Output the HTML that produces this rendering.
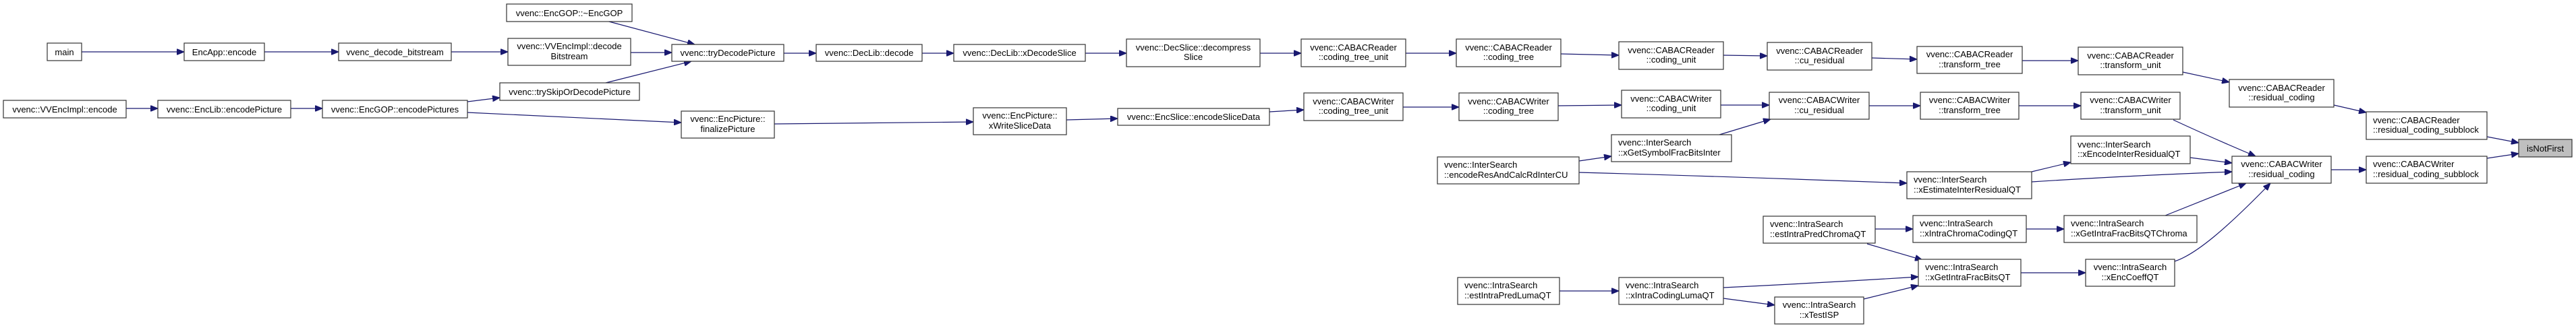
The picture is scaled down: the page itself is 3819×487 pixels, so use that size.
<!DOCTYPE html>
<html><head><meta charset="utf-8"><style>
html,body{margin:0;padding:0;background:#fff;}
svg{display:block;}
text{font-family:"Liberation Sans",Arial,sans-serif;font-size:13px;fill:#000;}
rect{fill:#fff;stroke:#333;stroke-width:1.2;}
path.e{fill:none;stroke:#191970;stroke-width:1.2;}
</style></head><body>
<svg width="3819" height="487" viewBox="0 0 3819 487" xmlns="http://www.w3.org/2000/svg">
<defs><marker id="a" markerUnits="userSpaceOnUse" markerWidth="12" markerHeight="9" refX="11" refY="4.5" orient="auto"><path d="M0,0 L11,4.5 L0,9 z" fill="#191970" stroke="#191970"/></marker></defs>
<g>
<path class="e" marker-end="url(#a)" d="M121,77 L273,77"/>
<path class="e" marker-end="url(#a)" d="M392,77 L502,77"/>
<path class="e" marker-end="url(#a)" d="M669,77 L753,77"/>
<path class="e" marker-end="url(#a)" d="M187,161 L234,161"/>
<path class="e" marker-end="url(#a)" d="M431,161 L478,161"/>
<path class="e" marker-end="url(#a)" d="M693,151 L741,145"/>
<path class="e" marker-end="url(#a)" d="M693,167 L1010,182"/>
<path class="e" marker-end="url(#a)" d="M899,31 L1030,66"/>
<path class="e" marker-end="url(#a)" d="M935,78 L996,78"/>
<path class="e" marker-end="url(#a)" d="M898,123 L1025,91"/>
<path class="e" marker-end="url(#a)" d="M1162,79 L1210,79"/>
<path class="e" marker-end="url(#a)" d="M1367,79 L1414,79"/>
<path class="e" marker-end="url(#a)" d="M1609,79 L1670,79"/>
<path class="e" marker-end="url(#a)" d="M1868,79 L1929,79"/>
<path class="e" marker-end="url(#a)" d="M1148,184 L1443,181"/>
<path class="e" marker-end="url(#a)" d="M1581,178 L1657,176"/>
<path class="e" marker-end="url(#a)" d="M1882,166 L1933,163"/>
<path class="e" marker-end="url(#a)" d="M2084,79 L2159,79"/>
<path class="e" marker-end="url(#a)" d="M2314,80 L2400,82"/>
<path class="e" marker-end="url(#a)" d="M2555,82 L2620,83"/>
<path class="e" marker-end="url(#a)" d="M2775,86 L2842,88"/>
<path class="e" marker-end="url(#a)" d="M2998,90 L3081,90"/>
<path class="e" marker-end="url(#a)" d="M3236,107 L3305,122"/>
<path class="e" marker-end="url(#a)" d="M3460,156 L3508,167"/>
<path class="e" marker-end="url(#a)" d="M3687,203 L3734,212"/>
<path class="e" marker-end="url(#a)" d="M3687,235 L3734,228"/>
<path class="e" marker-end="url(#a)" d="M3456,252 L3508,252"/>
<path class="e" marker-end="url(#a)" d="M2080,159 L2163,159"/>
<path class="e" marker-end="url(#a)" d="M2310,157 L2404,156"/>
<path class="e" marker-end="url(#a)" d="M2551,156 L2623,156"/>
<path class="e" marker-end="url(#a)" d="M2549,200 L2625,177"/>
<path class="e" marker-end="url(#a)" d="M2341,239 L2389,232"/>
<path class="e" marker-end="url(#a)" d="M2341,256 Q2560,262 2827,272"/>
<path class="e" marker-end="url(#a)" d="M2771,157 L2847,157"/>
<path class="e" marker-end="url(#a)" d="M2993,157 L3085,157"/>
<path class="e" marker-end="url(#a)" d="M3222,178 Q3280,205 3344,232"/>
<path class="e" marker-end="url(#a)" d="M3012,255 L3070,241"/>
<path class="e" marker-end="url(#a)" d="M3012,270 Q3150,261 3309,255"/>
<path class="e" marker-end="url(#a)" d="M3247,234 L3309,242"/>
<path class="e" marker-end="url(#a)" d="M3210,320 L3330,272"/>
<path class="e" marker-end="url(#a)" d="M3224,388 C3255,378 3300,340 3366,272"/>
<path class="e" marker-end="url(#a)" d="M2780,340 L2836,340"/>
<path class="e" marker-end="url(#a)" d="M3004,340 L3060,340"/>
<path class="e" marker-end="url(#a)" d="M2768,362 L2850,386"/>
<path class="e" marker-end="url(#a)" d="M2996,405 L3092,405"/>
<path class="e" marker-end="url(#a)" d="M2312,432 L2400,432"/>
<path class="e" marker-end="url(#a)" d="M2555,427 Q2700,420 2844,411"/>
<path class="e" marker-end="url(#a)" d="M2555,443 L2631,453"/>
<path class="e" marker-end="url(#a)" d="M2763,444 L2844,424"/>
</g>
<g>
<rect x="70" y="64" width="51" height="26"/><text x="95.5" y="82" text-anchor="middle">main</text>
<rect x="273" y="64" width="119" height="26"/><text x="332.5" y="82" text-anchor="middle">EncApp::encode</text>
<rect x="502" y="64" width="167" height="26"/><text x="585.5" y="82" text-anchor="middle">vvenc_decode_bitstream</text>
<rect x="5" y="149" width="182" height="26"/><text x="96" y="167" text-anchor="middle">vvenc::VVEncImpl::encode</text>
<rect x="234" y="149" width="197" height="26"/><text x="332.5" y="167" text-anchor="middle">vvenc::EncLib::encodePicture</text>
<rect x="478" y="149" width="215" height="26"/><text x="585.5" y="167" text-anchor="middle">vvenc::EncGOP::encodePictures</text>
<rect x="751" y="6" width="186" height="26"/><text x="844" y="24" text-anchor="middle">vvenc::EncGOP::~EncGOP</text>
<rect x="753" y="57" width="182" height="40"/><text x="844" y="73" text-anchor="middle">vvenc::VVEncImpl::decode</text><text x="844" y="88" text-anchor="middle">Bitstream</text>
<rect x="996" y="66" width="166" height="25"/><text x="1079" y="83" text-anchor="middle">vvenc::tryDecodePicture</text>
<rect x="741" y="123" width="207" height="26"/><text x="844.5" y="141" text-anchor="middle">vvenc::trySkipOrDecodePicture</text>
<rect x="1010" y="165" width="138" height="40"/><text x="1079" y="181" text-anchor="middle">vvenc::EncPicture::</text><text x="1079" y="196" text-anchor="middle">finalizePicture</text>
<rect x="1210" y="66" width="157" height="25"/><text x="1288.5" y="83" text-anchor="middle">vvenc::DecLib::decode</text>
<rect x="1414" y="66" width="195" height="25"/><text x="1511.5" y="83" text-anchor="middle">vvenc::DecLib::xDecodeSlice</text>
<rect x="1670" y="58" width="198" height="41"/><text x="1769" y="75" text-anchor="middle">vvenc::DecSlice::decompress</text><text x="1769" y="89" text-anchor="middle">Slice</text>
<rect x="1443" y="160" width="138" height="40"/><text x="1512" y="176" text-anchor="middle">vvenc::EncPicture::</text><text x="1512" y="191" text-anchor="middle">xWriteSliceData</text>
<rect x="1657" y="161" width="225" height="25"/><text x="1769.5" y="178" text-anchor="middle">vvenc::EncSlice::encodeSliceData</text>
<rect x="1929" y="58" width="155" height="41"/><text x="2006.5" y="75" text-anchor="middle">vvenc::CABACReader</text><text x="2006.5" y="89" text-anchor="middle">::coding_tree_unit</text>
<rect x="2159" y="58" width="155" height="41"/><text x="2236.5" y="75" text-anchor="middle">vvenc::CABACReader</text><text x="2236.5" y="89" text-anchor="middle">::coding_tree</text>
<rect x="2400" y="62" width="155" height="41"/><text x="2477.5" y="79" text-anchor="middle">vvenc::CABACReader</text><text x="2477.5" y="93" text-anchor="middle">::coding_unit</text>
<rect x="1933" y="138" width="147" height="41"/><text x="2006.5" y="155" text-anchor="middle">vvenc::CABACWriter</text><text x="2006.5" y="169" text-anchor="middle">::coding_tree_unit</text>
<rect x="2163" y="138" width="147" height="41"/><text x="2236.5" y="155" text-anchor="middle">vvenc::CABACWriter</text><text x="2236.5" y="169" text-anchor="middle">::coding_tree</text>
<rect x="2404" y="134" width="147" height="41"/><text x="2477.5" y="151" text-anchor="middle">vvenc::CABACWriter</text><text x="2477.5" y="165" text-anchor="middle">::coding_unit</text>
<rect x="2389" y="200" width="178" height="40"/><text x="2399" y="216">vvenc::InterSearch</text><text x="2399" y="231">::xGetSymbolFracBitsInter</text>
<rect x="2131" y="233" width="210" height="40"/><text x="2141" y="249">vvenc::InterSearch</text><text x="2141" y="264">::encodeResAndCalcRdInterCU</text>
<rect x="2161" y="412" width="151" height="40"/><text x="2171" y="428">vvenc::IntraSearch</text><text x="2171" y="443">::estIntraPredLumaQT</text>
<rect x="2400" y="412" width="155" height="40"/><text x="2410" y="428">vvenc::IntraSearch</text><text x="2410" y="443">::xIntraCodingLumaQT</text>
<rect x="2620" y="63" width="155" height="41"/><text x="2697.5" y="80" text-anchor="middle">vvenc::CABACReader</text><text x="2697.5" y="94" text-anchor="middle">::cu_residual</text>
<rect x="2842" y="69" width="156" height="40"/><text x="2920" y="85" text-anchor="middle">vvenc::CABACReader</text><text x="2920" y="100" text-anchor="middle">::transform_tree</text>
<rect x="3081" y="70" width="155" height="41"/><text x="3158.5" y="87" text-anchor="middle">vvenc::CABACReader</text><text x="3158.5" y="101" text-anchor="middle">::transform_unit</text>
<rect x="2623" y="137" width="148" height="40"/><text x="2697" y="153" text-anchor="middle">vvenc::CABACWriter</text><text x="2697" y="168" text-anchor="middle">::cu_residual</text>
<rect x="2847" y="137" width="146" height="40"/><text x="2920" y="153" text-anchor="middle">vvenc::CABACWriter</text><text x="2920" y="168" text-anchor="middle">::transform_tree</text>
<rect x="3085" y="137" width="147" height="40"/><text x="3158.5" y="153" text-anchor="middle">vvenc::CABACWriter</text><text x="3158.5" y="168" text-anchor="middle">::transform_unit</text>
<rect x="3070" y="202" width="177" height="41"/><text x="3080" y="219">vvenc::InterSearch</text><text x="3080" y="233">::xEncodeInterResidualQT</text>
<rect x="2827" y="255" width="185" height="40"/><text x="2837" y="271">vvenc::InterSearch</text><text x="2837" y="286">::xEstimateInterResidualQT</text>
<rect x="2614" y="321" width="166" height="40"/><text x="2624" y="337">vvenc::IntraSearch</text><text x="2624" y="352">::estIntraPredChromaQT</text>
<rect x="2836" y="320" width="168" height="40"/><text x="2846" y="336">vvenc::IntraSearch</text><text x="2846" y="351">::xIntraChromaCodingQT</text>
<rect x="3060" y="320" width="197" height="40"/><text x="3070" y="336">vvenc::IntraSearch</text><text x="3070" y="351">::xGetIntraFracBitsQTChroma</text>
<rect x="2844" y="385" width="152" height="40"/><text x="2854" y="401">vvenc::IntraSearch</text><text x="2854" y="416">::xGetIntraFracBitsQT</text>
<rect x="3092" y="385" width="132" height="40"/><text x="3158" y="401" text-anchor="middle">vvenc::IntraSearch</text><text x="3158" y="416" text-anchor="middle">::xEncCoeffQT</text>
<rect x="2631" y="441" width="132" height="40"/><text x="2697" y="457" text-anchor="middle">vvenc::IntraSearch</text><text x="2697" y="472" text-anchor="middle">::xTestISP</text>
<rect x="3305" y="118" width="155" height="41"/><text x="3382.5" y="135" text-anchor="middle">vvenc::CABACReader</text><text x="3382.5" y="149" text-anchor="middle">::residual_coding</text>
<rect x="3508" y="166" width="179" height="41"/><text x="3518" y="183">vvenc::CABACReader</text><text x="3518" y="197">::residual_coding_subblock</text>
<rect x="3309" y="232" width="147" height="40"/><text x="3382.5" y="248" text-anchor="middle">vvenc::CABACWriter</text><text x="3382.5" y="263" text-anchor="middle">::residual_coding</text>
<rect x="3508" y="232" width="179" height="40"/><text x="3518" y="248">vvenc::CABACWriter</text><text x="3518" y="263">::residual_coding_subblock</text>
<rect x="3734" y="207" width="79" height="26" style="fill:#bfbfbf"/><text x="3773.5" y="225" text-anchor="middle">isNotFirst</text>
</g>
</svg>
</body></html>
